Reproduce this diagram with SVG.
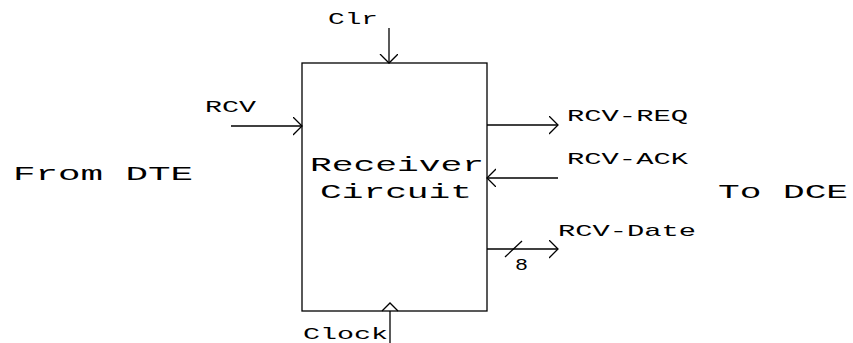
<svg xmlns="http://www.w3.org/2000/svg" width="853" height="343" viewBox="0 0 853 343">
<style>
text{font-family:"Courier New","Liberation Mono",monospace;fill:#000}
.s{font-size:17px}
.b{font-size:20px}
.w{stroke:#000;stroke-width:1.3;fill:none}
</style>
<defs>
<marker id="ah" markerUnits="userSpaceOnUse" markerWidth="20" markerHeight="20" refX="9" refY="9" orient="auto" viewBox="0 0 20 20">
<path d="M0,0 L9,9 L0,18" fill="none" stroke="#000" stroke-width="1.3"/>
</marker>
</defs>
<rect width="853" height="343" fill="#fff"/>
<g id="receiver">
<rect x="302" y="63" width="185" height="248" class="w"/>
<text class="b" x="310" y="171" textLength="174" lengthAdjust="spacingAndGlyphs">Receiver</text>
<text class="b" x="320" y="198" textLength="152" lengthAdjust="spacingAndGlyphs">Circuit</text>
</g>
<g id="from-dte"><text class="b" x="13" y="180" textLength="180" lengthAdjust="spacingAndGlyphs">From DTE</text></g>
<g id="to-dce"><text class="b" x="718" y="198" textLength="130" lengthAdjust="spacingAndGlyphs">To DCE</text></g>
<g id="labels">
<text class="s" x="328" y="24" textLength="50" lengthAdjust="spacingAndGlyphs">Clr</text>
<text class="s" x="205" y="112" textLength="51" lengthAdjust="spacingAndGlyphs">RCV</text>
<text class="s" x="567" y="121" textLength="121" lengthAdjust="spacingAndGlyphs">RCV-REQ</text>
<text class="s" x="567" y="164" textLength="121" lengthAdjust="spacingAndGlyphs">RCV-ACK</text>
<text class="s" x="558" y="236" textLength="138" lengthAdjust="spacingAndGlyphs">RCV-Date</text>
<text class="s" x="515" y="270" textLength="13" lengthAdjust="spacingAndGlyphs">8</text>
<text x="303" y="339" style="font-size:16px" textLength="85" lengthAdjust="spacingAndGlyphs">Clock</text>
</g>
<g id="connectors">
<line class="w" x1="389" y1="28" x2="389" y2="63" marker-end="url(#ah)"/>
<line class="w" x1="231" y1="126" x2="302" y2="126" marker-end="url(#ah)"/>
<line class="w" x1="487" y1="125" x2="558" y2="125" marker-end="url(#ah)"/>
<line class="w" x1="558" y1="178" x2="487" y2="178" marker-end="url(#ah)"/>
<line class="w" x1="487" y1="249" x2="558" y2="249" marker-end="url(#ah)"/>
<line class="w" x1="505" y1="257" x2="522" y2="241"/>
<line class="w" x1="390" y1="343" x2="390" y2="311"/>
<path class="w" d="M382,311 L390,303 L398,311"/>
</g>
</svg>
